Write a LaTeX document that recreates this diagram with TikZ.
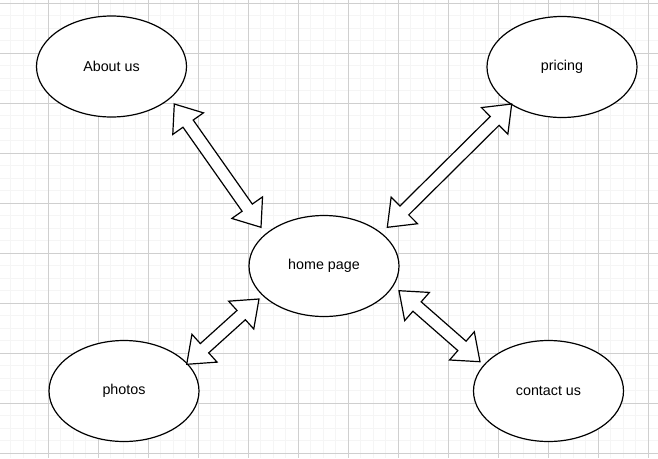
\documentclass[tikz,border=0pt]{standalone}
\usepackage{fontspec}
\setmainfont{Liberation Sans}
\usetikzlibrary{shapes.geometric,calc}
\tikzset{
  page/.style={ellipse,draw=black,line width=1.2pt,fill=white,minimum width=150pt,minimum height=101pt,inner sep=0pt,font=\fontsize{14.3pt}{16pt}\selectfont},
  flexarrow/.style={draw=black,line width=1.2pt,fill=white,line join=miter},
  gridminor/.style={draw=gray!8,line width=0.8pt},
  gridmajor/.style={draw=gray!38,line width=0.8pt}
}
\newcommand\flexarr[2]{%
  \draw[flexarrow] (#1)
    -- ($($(#1)!24pt!(#2)$)!18.75pt!90:(#2)$)
    -- ($($(#1)!24pt!(#2)$)!6.25pt!90:(#2)$)
    -- ($($(#2)!24pt!(#1)$)!6.25pt!-90:(#1)$)
    -- ($($(#2)!24pt!(#1)$)!18.75pt!-90:(#1)$)
    -- (#2)
    -- ($($(#2)!24pt!(#1)$)!18.75pt!90:(#1)$)
    -- ($($(#2)!24pt!(#1)$)!6.25pt!90:(#1)$)
    -- ($($(#1)!24pt!(#2)$)!6.25pt!-90:(#2)$)
    -- ($($(#1)!24pt!(#2)$)!18.75pt!-90:(#2)$)
    -- cycle;}
\begin{document}
\begin{tikzpicture}[x=1pt,y=-1pt]
\useasboundingbox (0,0) rectangle (658,458);
\fill[white] (0,0) rectangle (658,458);
% grid
\foreach \i in {0,...,53} {\draw[gridminor] ({-1.7+12.5*\i},0) -- ({-1.7+12.5*\i},458);}
\foreach \i in {0,...,37} {\draw[gridminor] (0,{3.3+12.5*\i}) -- (658,{3.3+12.5*\i});}
\foreach \i in {0,...,13} {\draw[gridmajor] ({48.3+50*\i},0) -- ({48.3+50*\i},458);}
\foreach \i in {0,...,9} {\draw[gridmajor] (0,{3.3+50*\i}) -- (658,{3.3+50*\i});}
% pages
\node[page] (about) at (111.5,66.5) {\raisebox{-1pt}{About us}};
\node[page] (pricing) at (562,67) {\raisebox{-1pt}{pricing}};
\node[page] (home) at (324,266) {\raisebox{-1pt}{home page}};
\node[page] (photos) at (124,391) {\raisebox{-1pt}{photos}};
\node[page] (contact) at (548.5,391) {\raisebox{-1pt}{contact us}};
% arrow end points
\coordinate (a1) at (174.3,104);
\coordinate (a2) at (261,227.3);
\coordinate (p1) at (511.7,104);
\coordinate (p2) at (387.3,227.3);
\coordinate (f1) at (259,299);
\coordinate (f2) at (186.7,364.3);
\coordinate (c1) at (399,290.7);
\coordinate (c2) at (480,361.7);
\flexarr{a1}{a2}
\flexarr{p1}{p2}
\flexarr{f1}{f2}
\flexarr{c1}{c2}
\end{tikzpicture}
\end{document}
